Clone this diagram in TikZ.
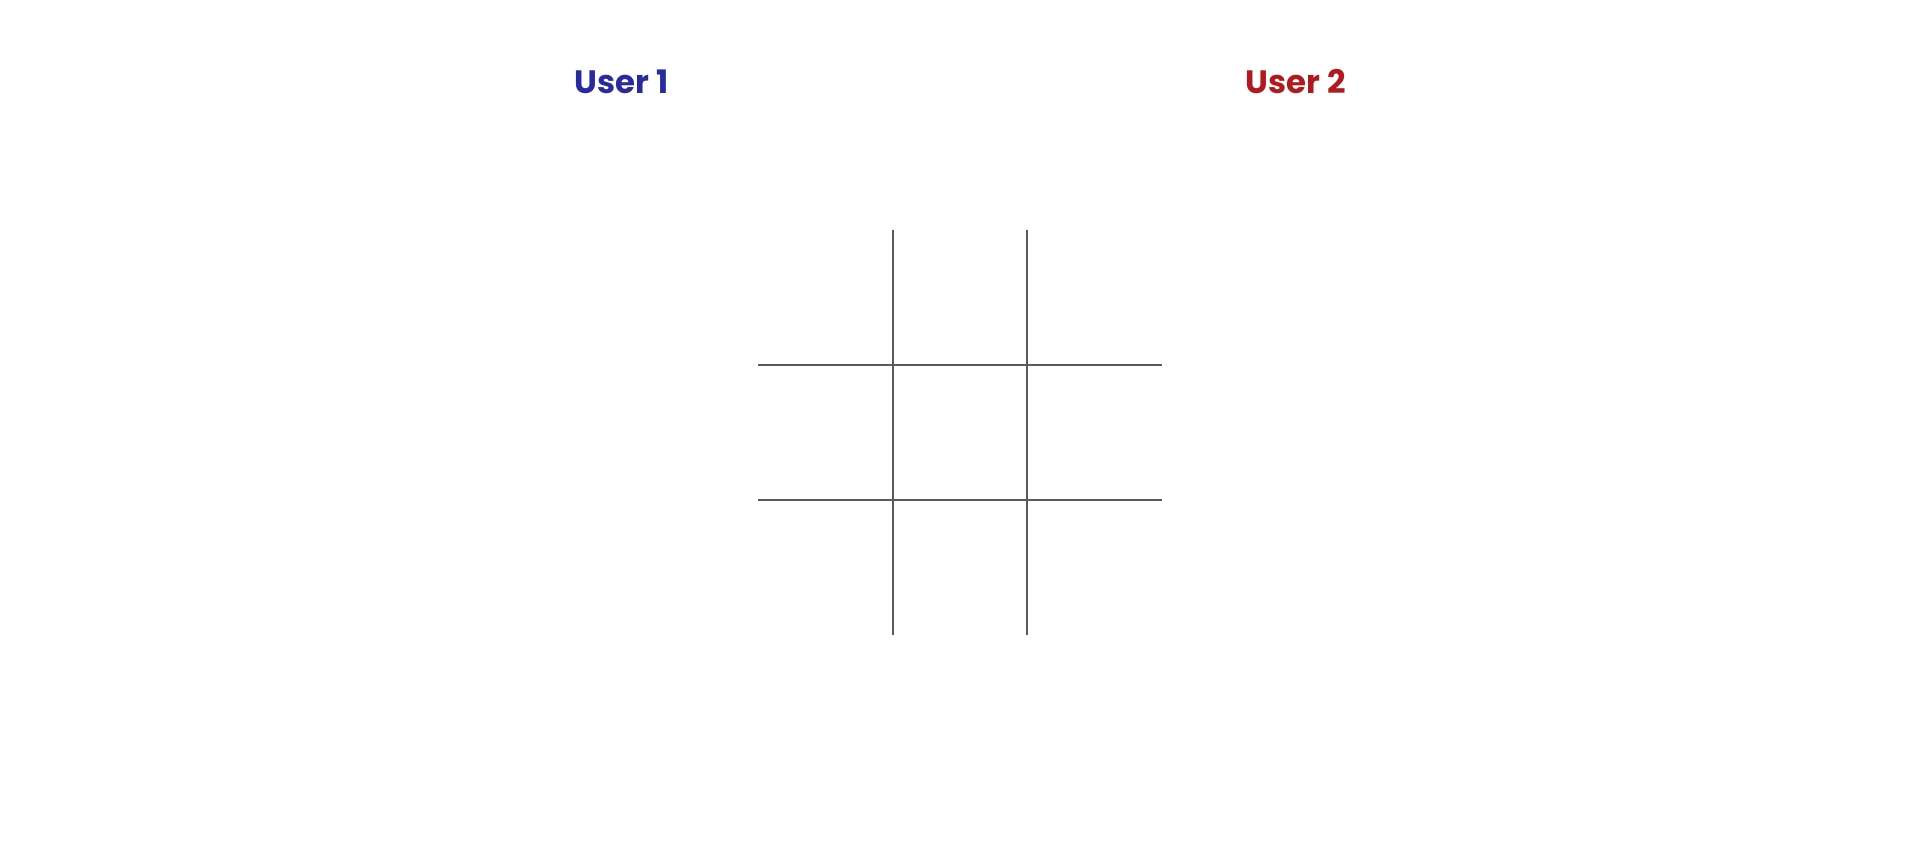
\documentclass[tikz,border=0pt]{standalone}
\usepackage{fontspec}
\setmainfont{Poppins}
\usepackage{xcolor}

\definecolor{userone}{RGB}{ 42,42,160 }
\definecolor{usertwo}{RGB}{ 176,26,31 }
\definecolor{gridline}{RGB}{ 90,90,90 }

\begin{document}
\begin{tikzpicture}[x=0.01cm, y=-0.01cm]

\useasboundingbox (0,0) rectangle (1911,853);

% players
\node[anchor=base, color=userone, font=\bfseries\fontsize{9.2}{11}\selectfont] (user1) at (621.5,93) {User 1};
\node[anchor=base, color=usertwo, font=\bfseries\fontsize{9.2}{11}\selectfont] (user2) at (1295.5,93) {User 2};

% board
\foreach \x in {893, 1027}
    \draw[gridline, line width=0.57pt] (\x,230) -- (\x,634.5);
\foreach \y in {365, 500}
    \draw[gridline, line width=0.57pt] (758,\y) -- (1162,\y);

\end{tikzpicture}
\end{document}
